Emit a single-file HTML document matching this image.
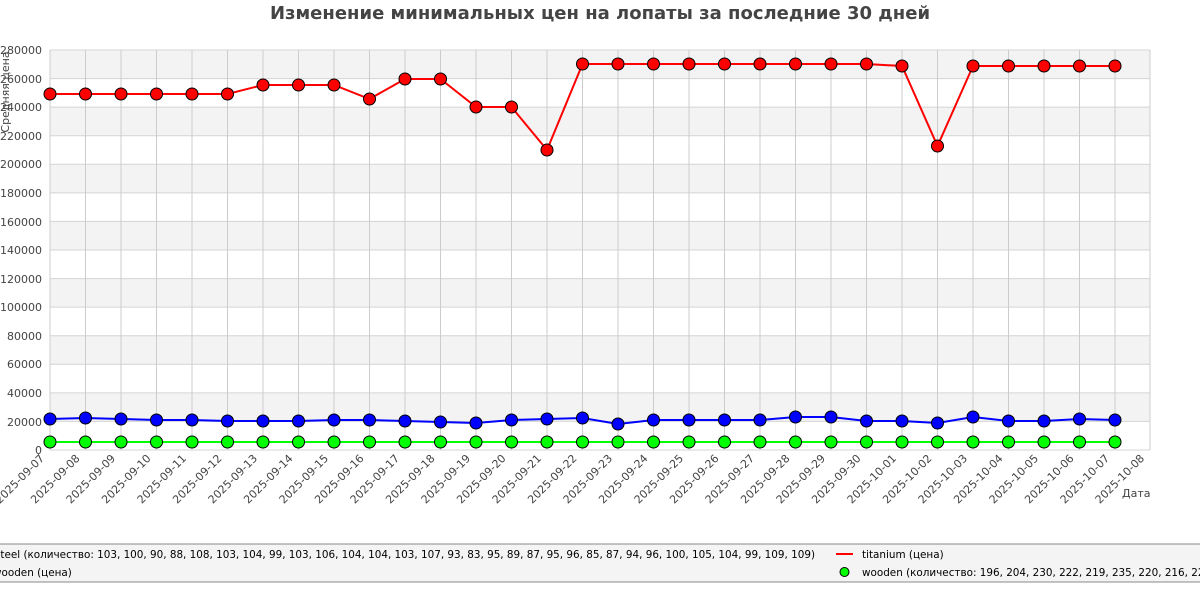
<!DOCTYPE html>
<html><head><meta charset="utf-8"><style>
html,body{margin:0;padding:0;background:#fff;width:1200px;height:600px;overflow:hidden}
svg text{font-family:"DejaVu Sans","Liberation Sans",sans-serif;fill:#444}
</style></head><body>
<svg width="1200" height="600" viewBox="0 0 1200 600" xmlns="http://www.w3.org/2000/svg">
<defs>
<marker id="mr" markerUnits="userSpaceOnUse" markerWidth="16" markerHeight="16" refX="8" refY="8"><circle cx="8" cy="8" r="6" fill="#f00" stroke="#000" stroke-width="1"/></marker>
<marker id="mb" markerUnits="userSpaceOnUse" markerWidth="16" markerHeight="16" refX="8" refY="8"><circle cx="8" cy="8" r="6" fill="#00f" stroke="#000" stroke-width="1"/></marker>
<marker id="mg" markerUnits="userSpaceOnUse" markerWidth="16" markerHeight="16" refX="8" refY="8"><circle cx="8" cy="8" r="6" fill="#0f0" stroke="#000" stroke-width="1"/></marker>
</defs>
<text x="600" y="19" text-anchor="middle" font-size="18" font-weight="bold" style="fill:#444">Изменение минимальных цен на лопаты за последние 30 дней</text>
<g fill="#f3f3f3">
<rect x="50" y="50" width="1100" height="28.6"/><rect x="50" y="107.1" width="1100" height="28.6"/><rect x="50" y="164.3" width="1100" height="28.6"/><rect x="50" y="221.4" width="1100" height="28.6"/><rect x="50" y="278.6" width="1100" height="28.6"/><rect x="50" y="335.7" width="1100" height="28.6"/><rect x="50" y="392.9" width="1100" height="28.6"/>
</g>
<g stroke="#d4d4d4" stroke-width="1">
<line x1="50" x2="1150" y1="50" y2="50"/><line x1="50" x2="1150" y1="78.6" y2="78.6"/><line x1="50" x2="1150" y1="107.1" y2="107.1"/><line x1="50" x2="1150" y1="135.7" y2="135.7"/><line x1="50" x2="1150" y1="164.3" y2="164.3"/><line x1="50" x2="1150" y1="192.9" y2="192.9"/><line x1="50" x2="1150" y1="221.4" y2="221.4"/><line x1="50" x2="1150" y1="250" y2="250"/><line x1="50" x2="1150" y1="278.6" y2="278.6"/><line x1="50" x2="1150" y1="307.1" y2="307.1"/><line x1="50" x2="1150" y1="335.7" y2="335.7"/><line x1="50" x2="1150" y1="364.3" y2="364.3"/><line x1="50" x2="1150" y1="392.9" y2="392.9"/><line x1="50" x2="1150" y1="421.4" y2="421.4"/><line x1="50" x2="1150" y1="450" y2="450"/>
</g>
<g stroke="#cccccc" stroke-width="1">
<line x1="50" x2="50" y1="50" y2="450"/><line x1="85.5" x2="85.5" y1="50" y2="450"/><line x1="121" x2="121" y1="50" y2="450"/><line x1="156.5" x2="156.5" y1="50" y2="450"/><line x1="192" x2="192" y1="50" y2="450"/><line x1="227.5" x2="227.5" y1="50" y2="450"/><line x1="263" x2="263" y1="50" y2="450"/><line x1="298.5" x2="298.5" y1="50" y2="450"/><line x1="334" x2="334" y1="50" y2="450"/><line x1="369.5" x2="369.5" y1="50" y2="450"/><line x1="405" x2="405" y1="50" y2="450"/><line x1="440.5" x2="440.5" y1="50" y2="450"/><line x1="476" x2="476" y1="50" y2="450"/><line x1="511.5" x2="511.5" y1="50" y2="450"/><line x1="547" x2="547" y1="50" y2="450"/><line x1="582.5" x2="582.5" y1="50" y2="450"/><line x1="618" x2="618" y1="50" y2="450"/><line x1="653.5" x2="653.5" y1="50" y2="450"/><line x1="689" x2="689" y1="50" y2="450"/><line x1="724.5" x2="724.5" y1="50" y2="450"/><line x1="760" x2="760" y1="50" y2="450"/><line x1="795.5" x2="795.5" y1="50" y2="450"/><line x1="831" x2="831" y1="50" y2="450"/><line x1="866.5" x2="866.5" y1="50" y2="450"/><line x1="902" x2="902" y1="50" y2="450"/><line x1="937.5" x2="937.5" y1="50" y2="450"/><line x1="973" x2="973" y1="50" y2="450"/><line x1="1008.5" x2="1008.5" y1="50" y2="450"/><line x1="1044" x2="1044" y1="50" y2="450"/><line x1="1079.5" x2="1079.5" y1="50" y2="450"/><line x1="1115" x2="1115" y1="50" y2="450"/><line x1="1150" x2="1150" y1="50" y2="450"/>
</g>
<g font-size="11" text-anchor="end">
<text x="42" y="54">280000</text><text x="42" y="83">260000</text><text x="42" y="111">240000</text><text x="42" y="140">220000</text><text x="42" y="168">200000</text><text x="42" y="197">180000</text><text x="42" y="226">160000</text><text x="42" y="254">140000</text><text x="42" y="283">120000</text><text x="42" y="311">100000</text><text x="42" y="340">80000</text><text x="42" y="368">60000</text><text x="42" y="397">40000</text><text x="42" y="426">20000</text><text x="42" y="454">0</text>
</g>
<text transform="translate(9,92) rotate(-90)" font-size="11" text-anchor="middle">Средняя цена</text>
<text x="1122" y="497" font-size="11">Дата</text>
<polyline fill="none" stroke="#0f0" stroke-width="2" marker-start="url(#mg)" marker-mid="url(#mg)" marker-end="url(#mg)" points="50,442 85.5,442 121,442 156.5,442 192,442 227.5,442 263,442 298.5,442 334,442 369.5,442 405,442 440.5,442 476,442 511.5,442 547,442 582.5,442 618,442 653.5,442 689,442 724.5,442 760,442 795.5,442 831,442 866.5,442 902,442 937.5,442 973,442 1008.5,442 1044,442 1079.5,442 1115,442"/>
<polyline fill="none" stroke="#00f" stroke-width="2" marker-start="url(#mb)" marker-mid="url(#mb)" marker-end="url(#mb)" points="50,419 85.5,418 121,419 156.5,420 192,420 227.5,421 263,421 298.5,421 334,420 369.5,420 405,421 440.5,422 476,423 511.5,420 547,419 582.5,418 618,424 653.5,420 689,420 724.5,420 760,420 795.5,417 831,417 866.5,421 902,421 937.5,423 973,417 1008.5,421 1044,421 1079.5,419 1115,420"/>
<polyline fill="none" stroke="#f00" stroke-width="2" marker-start="url(#mr)" marker-mid="url(#mr)" marker-end="url(#mr)" points="50,94 85.5,94 121,94 156.5,94 192,94 227.5,94 263,85 298.5,85 334,85 369.5,99 405,79 440.5,79 476,107 511.5,107 547,150 582.5,64 618,64 653.5,64 689,64 724.5,64 760,64 795.5,64 831,64 866.5,64 902,66 937.5,146 973,66 1008.5,66 1044,66 1079.5,66 1115,66"/>
<g font-size="11" text-anchor="end">
<text transform="translate(45,459) rotate(-45)">2025-09-07</text>
<text transform="translate(80.5,459) rotate(-45)">2025-09-08</text>
<text transform="translate(116,459) rotate(-45)">2025-09-09</text>
<text transform="translate(151.5,459) rotate(-45)">2025-09-10</text>
<text transform="translate(187,459) rotate(-45)">2025-09-11</text>
<text transform="translate(222.5,459) rotate(-45)">2025-09-12</text>
<text transform="translate(258,459) rotate(-45)">2025-09-13</text>
<text transform="translate(293.5,459) rotate(-45)">2025-09-14</text>
<text transform="translate(329,459) rotate(-45)">2025-09-15</text>
<text transform="translate(364.5,459) rotate(-45)">2025-09-16</text>
<text transform="translate(400,459) rotate(-45)">2025-09-17</text>
<text transform="translate(435.5,459) rotate(-45)">2025-09-18</text>
<text transform="translate(471,459) rotate(-45)">2025-09-19</text>
<text transform="translate(506.5,459) rotate(-45)">2025-09-20</text>
<text transform="translate(542,459) rotate(-45)">2025-09-21</text>
<text transform="translate(577.5,459) rotate(-45)">2025-09-22</text>
<text transform="translate(613,459) rotate(-45)">2025-09-23</text>
<text transform="translate(648.5,459) rotate(-45)">2025-09-24</text>
<text transform="translate(684,459) rotate(-45)">2025-09-25</text>
<text transform="translate(719.5,459) rotate(-45)">2025-09-26</text>
<text transform="translate(755,459) rotate(-45)">2025-09-27</text>
<text transform="translate(790.5,459) rotate(-45)">2025-09-28</text>
<text transform="translate(826,459) rotate(-45)">2025-09-29</text>
<text transform="translate(861.5,459) rotate(-45)">2025-09-30</text>
<text transform="translate(897,459) rotate(-45)">2025-10-01</text>
<text transform="translate(932.5,459) rotate(-45)">2025-10-02</text>
<text transform="translate(968,459) rotate(-45)">2025-10-03</text>
<text transform="translate(1003.5,459) rotate(-45)">2025-10-04</text>
<text transform="translate(1039,459) rotate(-45)">2025-10-05</text>
<text transform="translate(1074.5,459) rotate(-45)">2025-10-06</text>
<text transform="translate(1110,459) rotate(-45)">2025-10-07</text>
<text transform="translate(1145,459) rotate(-45)">2025-10-08</text>
</g>
<rect x="-2" y="544" width="1210" height="38" fill="#f4f4f4" stroke="#888" stroke-width="1"/>
<g font-size="10.4">
<text x="-5" y="558" style="fill:#000">steel (количество: 103, 100, 90, 88, 108, 103, 104, 99, 103, 106, 104, 104, 103, 107, 93, 83, 95, 89, 87, 95, 96, 85, 87, 94, 96, 100, 105, 104, 99, 109, 109)</text>
<text x="-7" y="576" style="fill:#000">wooden (цена)</text>
<text x="862" y="558" style="fill:#000">titanium (цена)</text>
<text x="862" y="576" style="fill:#000">wooden (количество: 196, 204, 230, 222, 219, 235, 220, 216, 224, 230)</text>
</g>
<line x1="836" x2="853" y1="554" y2="554" stroke="#f00" stroke-width="2"/>
<circle cx="844.5" cy="572" r="4.5" fill="#0f0" stroke="#000" stroke-width="1"/>
</svg>
</body></html>
